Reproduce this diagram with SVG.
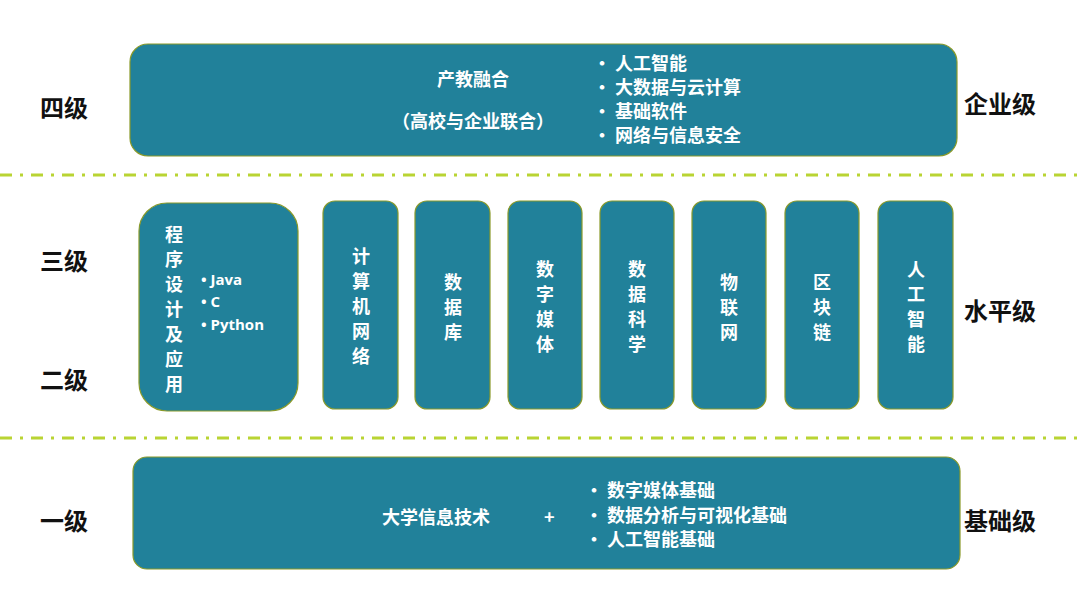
<svg xmlns="http://www.w3.org/2000/svg" width="1080" height="606" viewBox="0 0 1080 606">
<style>
.b{fill:#21819a;stroke:#8a9a2a;stroke-width:1.2}
.t{fill:#fff;font-family:"Noto Sans CJK SC","Noto Sans",sans-serif;font-weight:bold;font-size:18px}
.s{fill:#fff;font-family:"Open Sans","Noto Sans",sans-serif;font-weight:bold;font-size:15px}
.l{fill:#111;font-family:"Noto Sans CJK SC",sans-serif;font-weight:bold;font-size:24px}
.d{stroke:#b9d433;stroke-width:3;stroke-dasharray:12 8 3 8;fill:none}
.v{text-anchor:middle}
</style>
<rect width="1080" height="606" fill="#fff"/>
<g id="connectors">
<line class="d" x1="0" y1="175" x2="1080" y2="175"/>
<line class="d" x1="0" y1="438" x2="1080" y2="438"/>
</g>
<g id="labels">
<text class="l" x="40" y="117">四级</text>
<text class="l" x="40" y="270">三级</text>
<text class="l" x="40" y="389">二级</text>
<text class="l" x="40" y="530">一级</text>
<text class="l" x="964" y="113">企业级</text>
<text class="l" x="964" y="320">水平级</text>
<text class="l" x="964" y="530">基础级</text>
</g>
<g id="top">
<rect class="b" x="130" y="44" width="827" height="112" rx="18"/>
<text class="t v" x="473" y="86">产教融合</text>
<text class="t v" x="473" y="128">（高校与企业联合）</text>
<text class="t" x="593" y="70">•   人工智能</text>
<text class="t" x="593" y="94">•   大数据与云计算</text>
<text class="t" x="593" y="118">•   基础软件</text>
<text class="t" x="593" y="142">•   网络与信息安全</text>
</g>
<g id="prog">
<rect class="b" x="139" y="203" width="159" height="208" rx="28"/>
<text class="t v" x="174" y="241">程</text><text class="t v" x="174" y="266">序</text><text class="t v" x="174" y="291">设</text><text class="t v" x="174" y="316">计</text><text class="t v" x="174" y="341">及</text><text class="t v" x="174" y="366">应</text><text class="t v" x="174" y="391">用</text>
<text class="s" x="201" y="285">•   Java</text>
<text class="s" x="201" y="307">•   C</text>
<text class="s" x="201" y="330">•   Python</text>
</g>
<g id="net"><rect class="b" x="323" y="201" width="75" height="208" rx="12"/>
<text class="t v" x="361" y="263">计</text><text class="t v" x="361" y="288">算</text><text class="t v" x="361" y="313">机</text><text class="t v" x="361" y="338">网</text><text class="t v" x="361" y="363">络</text></g>
<g id="db"><rect class="b" x="415" y="201" width="75" height="208" rx="12"/>
<text class="t v" x="453" y="289">数</text><text class="t v" x="453" y="314">据</text><text class="t v" x="453" y="339">库</text></g>
<g id="media"><rect class="b" x="508" y="201" width="74" height="208" rx="12"/>
<text class="t v" x="545" y="276">数</text><text class="t v" x="545" y="301">字</text><text class="t v" x="545" y="326">媒</text><text class="t v" x="545" y="351">体</text></g>
<g id="ds"><rect class="b" x="600" y="201" width="74" height="208" rx="12"/>
<text class="t v" x="637" y="276">数</text><text class="t v" x="637" y="301">据</text><text class="t v" x="637" y="326">科</text><text class="t v" x="637" y="351">学</text></g>
<g id="iot"><rect class="b" x="692" y="201" width="74" height="208" rx="12"/>
<text class="t v" x="729" y="289">物</text><text class="t v" x="729" y="314">联</text><text class="t v" x="729" y="339">网</text></g>
<g id="chain"><rect class="b" x="785" y="201" width="74" height="208" rx="12"/>
<text class="t v" x="822" y="289">区</text><text class="t v" x="822" y="314">块</text><text class="t v" x="822" y="339">链</text></g>
<g id="ai"><rect class="b" x="878" y="201" width="75" height="208" rx="12"/>
<text class="t v" x="916" y="276">人</text><text class="t v" x="916" y="301">工</text><text class="t v" x="916" y="326">智</text><text class="t v" x="916" y="351">能</text></g>
<g id="bottom">
<rect class="b" x="133" y="457" width="827" height="112" rx="14"/>
<text class="t" x="382" y="524">大学信息技术</text>
<text class="t" x="544" y="524">+</text>
<text class="t" x="585" y="497">•   数字媒体基础</text>
<text class="t" x="585" y="522">•   数据分析与可视化基础</text>
<text class="t" x="585" y="546">•   人工智能基础</text>
</g>
</svg>
